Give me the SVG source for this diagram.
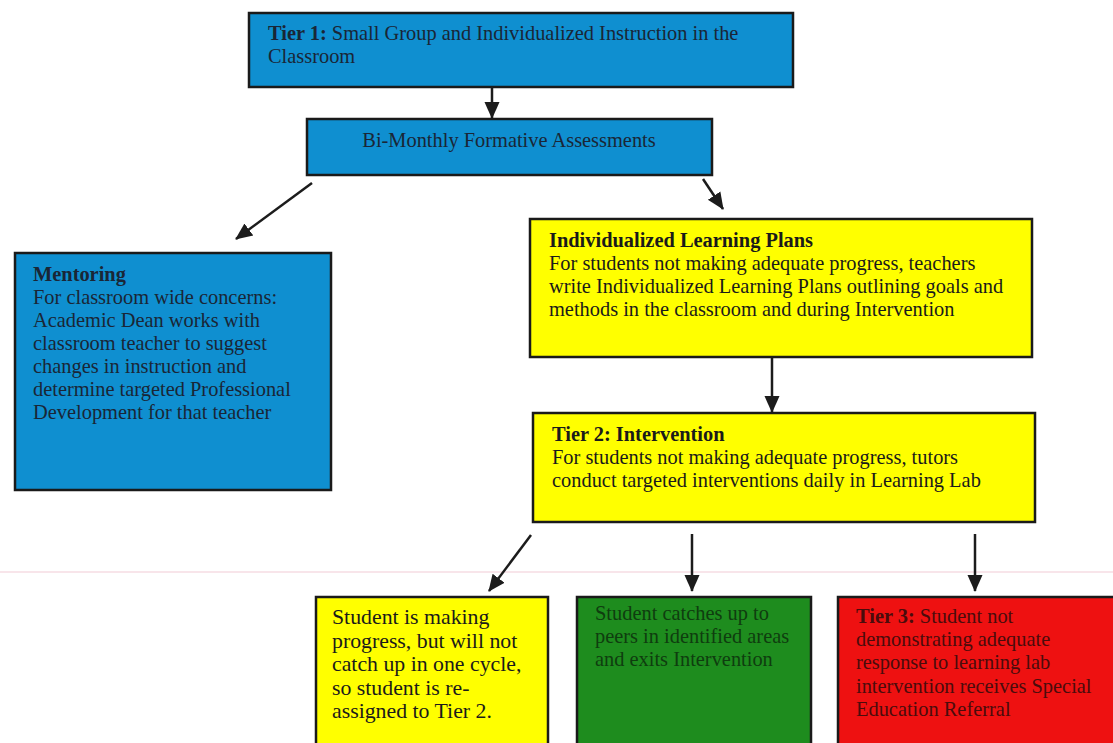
<svg xmlns="http://www.w3.org/2000/svg" width="1113" height="743" viewBox="0 0 1113 743">
<defs>
<marker id="ah" markerUnits="userSpaceOnUse" markerWidth="18" markerHeight="18" viewBox="0 0 18 18" refX="16" refY="9" orient="auto">
<path d="M0,1.5 L17,9 L0,16.5 Z" fill="#1c1c1c"/>
</marker>
<style>
.box{stroke:#1a1a1a;stroke-width:2.5}
.blue{fill:#0f8fd0}
.yellow{fill:#ffff00}
.green{fill:#1e8c1e}
.red{fill:#ee1111}
text{font-family:"Liberation Serif","Times New Roman",serif;font-size:20.4px}
.big{font-size:21.8px}
.tb{fill:#1a2636}
.ty{fill:#1a1a1a}
.tg{fill:#0f3d0f}
.tr{fill:#4a0c0c}
.b{font-weight:bold}
.conn line{stroke:#1c1c1c;stroke-width:2.5;marker-end:url(#ah)}
</style>
</defs>
<rect width="1113" height="743" fill="#ffffff"/>
<line x1="0" y1="572" x2="1113" y2="572" stroke="#f6dde3" stroke-width="1.5"/>

<g id="tier1">
<rect class="box blue" x="249" y="13" width="544" height="74"/>
<text class="tb" x="268" y="40"><tspan class="b">Tier 1:</tspan> Small Group and Individualized Instruction in the</text>
<text class="tb" x="268" y="63">Classroom</text>
</g>

<g id="bimonthly">
<rect class="box blue" x="307" y="119" width="405" height="56"/>
<text class="tb" x="509" y="147" text-anchor="middle">Bi-Monthly Formative Assessments</text>
</g>

<g id="mentoring">
<rect class="box blue" x="15" y="253" width="316" height="237"/>
<text class="tb" x="33" y="281"><tspan class="b">Mentoring</tspan>
<tspan x="33" dy="23">For classroom wide concerns:</tspan>
<tspan x="33" dy="23">Academic Dean works with</tspan>
<tspan x="33" dy="23">classroom teacher to suggest</tspan>
<tspan x="33" dy="23">changes in instruction and</tspan>
<tspan x="33" dy="23">determine targeted Professional</tspan>
<tspan x="33" dy="23">Development for that teacher</tspan></text>
</g>

<g id="ilp">
<rect class="box yellow" x="530" y="219" width="502" height="138"/>
<text class="ty" x="549" y="247"><tspan class="b">Individualized Learning Plans</tspan>
<tspan x="549" dy="23">For students not making adequate progress, teachers</tspan>
<tspan x="549" dy="23">write Individualized Learning Plans outlining goals and</tspan>
<tspan x="549" dy="23">methods in the classroom and during Intervention</tspan></text>
</g>

<g id="tier2">
<rect class="box yellow" x="533" y="413" width="502" height="109"/>
<text class="ty" x="552" y="441"><tspan class="b">Tier 2: Intervention</tspan>
<tspan x="552" dy="23">For students not making adequate progress, tutors</tspan>
<tspan x="552" dy="23">conduct targeted interventions daily in Learning Lab</tspan></text>
</g>

<g id="reassigned">
<rect class="box yellow" x="316" y="597" width="232" height="160"/>
<text class="ty big" x="332" y="624">Student is making
<tspan x="332" dy="23.5">progress, but will not</tspan>
<tspan x="332" dy="23.5">catch up in one cycle,</tspan>
<tspan x="332" dy="23.5">so student is re-</tspan>
<tspan x="332" dy="23.5">assigned to Tier 2.</tspan></text>
</g>

<g id="exits">
<rect class="box green" x="577" y="597" width="234" height="160"/>
<text class="tg" x="595" y="620">Student catches up to
<tspan x="595" dy="23">peers in identified areas</tspan>
<tspan x="595" dy="23">and exits Intervention</tspan></text>
</g>

<g id="tier3">
<rect class="box red" x="838" y="597" width="290" height="160"/>
<text class="tr" x="856" y="623"><tspan class="b">Tier 3:</tspan> Student not
<tspan x="856" dy="23.2">demonstrating adequate</tspan>
<tspan x="856" dy="23.2">response to learning lab</tspan>
<tspan x="856" dy="23.2">intervention receives Special</tspan>
<tspan x="856" dy="23.2">Education Referral</tspan></text>
</g>

<g id="connectors" class="conn">
<line x1="492" y1="87" x2="492" y2="118"/>
<line x1="312" y1="183" x2="236" y2="239"/>
<line x1="703" y1="179" x2="723" y2="209"/>
<line x1="772" y1="358" x2="772" y2="412"/>
<line x1="531" y1="535" x2="489" y2="591"/>
<line x1="692" y1="534" x2="692" y2="591"/>
<line x1="975" y1="534" x2="975" y2="591"/>
</g>
</svg>
